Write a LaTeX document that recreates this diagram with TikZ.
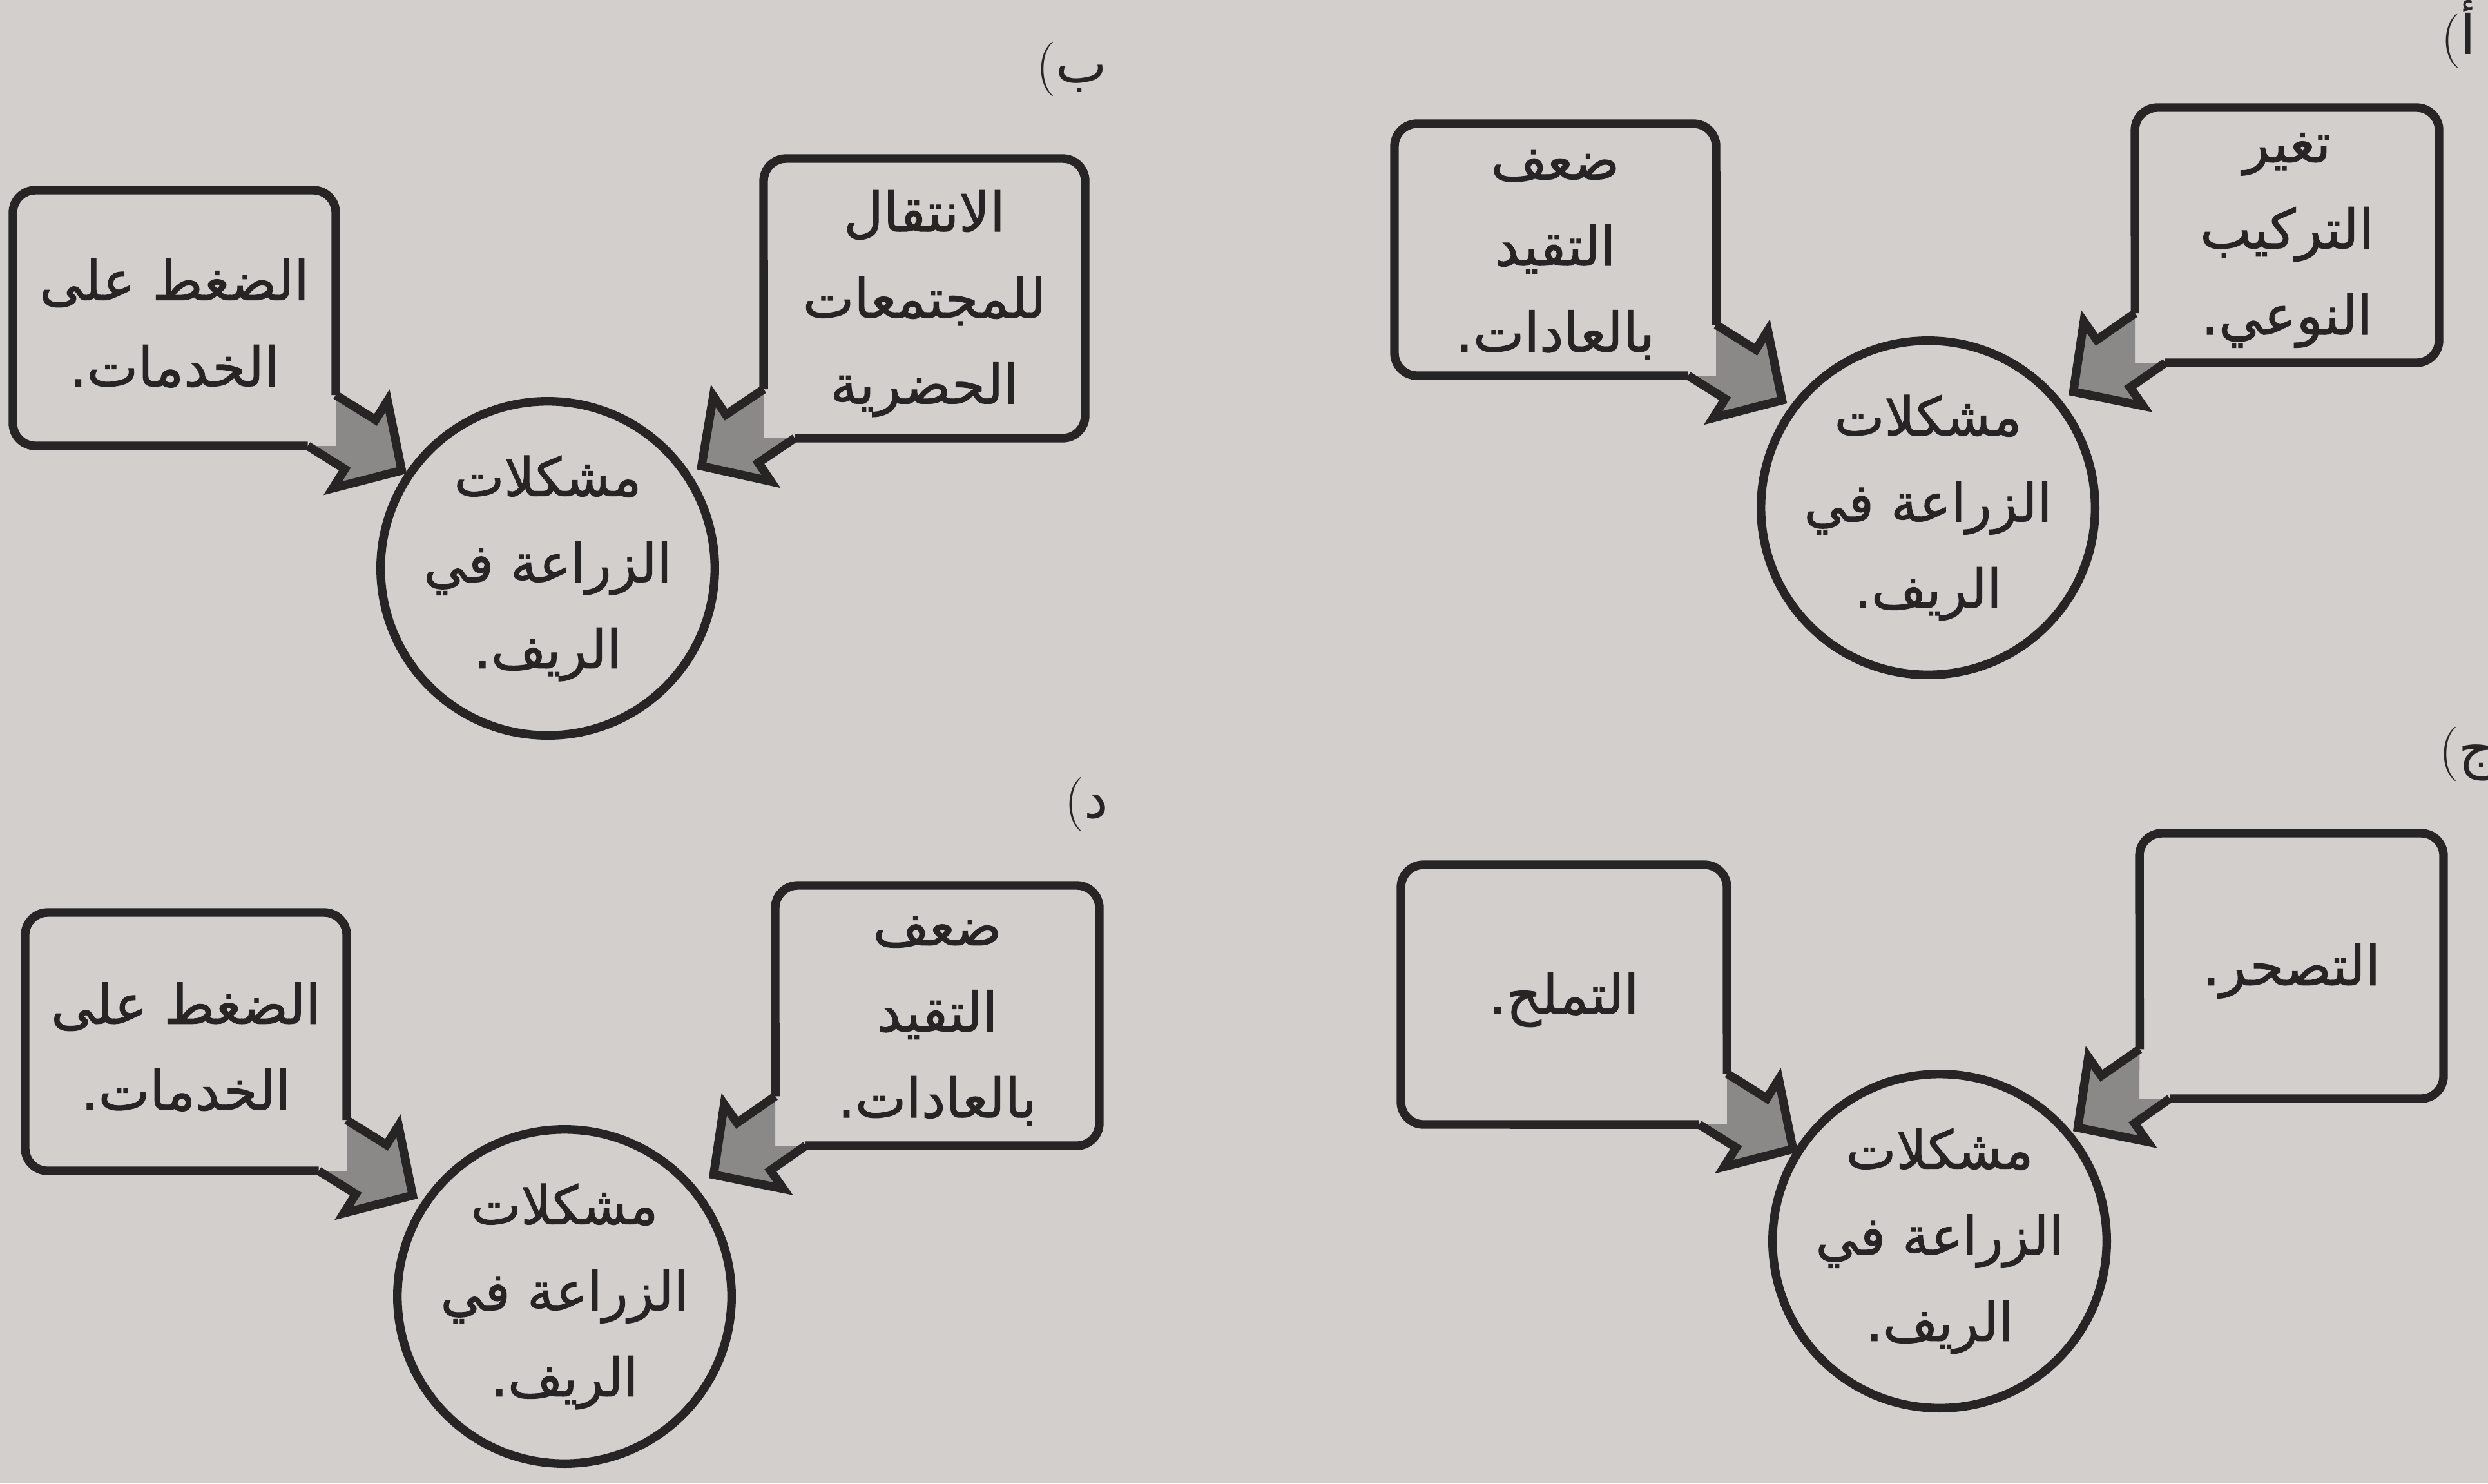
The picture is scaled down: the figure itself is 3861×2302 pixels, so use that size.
\documentclass[tikz,border=0pt]{standalone}
\usepackage{fontspec}
\usetikzlibrary{calc}
\newfontfamily\arabicfont[Script=Arabic, FakeBold=1.2]{DejaVu Sans}
\newfontfamily\arabicplain[Script=Arabic]{DejaVu Sans}
\TeXXeTstate=1
\definecolor{paper}{RGB}{211,207,205}
\definecolor{ink}{RGB}{38,36,36}
\definecolor{arrowgray}{RGB}{138,137,135}
\newcommand{\ar}[1]{\beginR #1\endR}
\def\arwshaft{45}
\def\arwhead{80}
\def\arwlen{76}
\def\boxrad{0.35cm}
\tikzset{
  outline/.style={draw=ink, line width=3.8pt},
  txt/.style={text=ink, align=center, inner sep=0pt, font=\arabicfont\fontsize{24}{38}\selectfont},
  circ/.style={circle, draw=ink, fill=paper, line width=3.8pt, minimum size=5.1cm, inner sep=0pt,
    text=ink, align=center, font=\arabicfont\fontsize{23.5}{38}\selectfont},
  lbl/.style={text=ink, inner sep=0pt, font=\fontsize{24}{28}\selectfont},
}
% box with the arrow on its bottom-left corner
\newcommand{\calloutBL}[7]{%
  \coordinate (#1c) at (#2,#5);
  \coordinate (#1tl) at (#2,#3);
  \coordinate (#1tr) at (#4,#3);
  \coordinate (#1br) at (#4,#5);
  \coordinate (#1o) at ($(#1c)+(#6:28)+(#6+90:18)$);
  \coordinate (#1na) at ($(#1o)+(#6+90:\arwshaft)$);
  \coordinate (#1ha) at ($(#1o)+(#6+90:\arwhead)$);
  \coordinate (#1t) at ($(#1o)+(#6:\arwlen)$);
  \coordinate (#1hb) at ($(#1o)+(#6-90:\arwhead)$);
  \coordinate (#1nb) at ($(#1o)+(#6-90:\arwshaft)$);
  \coordinate (#1nax) at ($(#1na)+(#6+180:200)$);
  \coordinate (#1nbx) at ($(#1nb)+(#6+180:200)$);
  \coordinate (#1A) at (intersection of #1na--#1nax and #1c--#1tl);
  \coordinate (#1B) at (intersection of #1nb--#1nbx and #1c--#1br);
  \fill[paper, rounded corners=\boxrad] (#1tl) -- (#1tr) -- (#1br) -- (#1c) -- cycle;
  \fill[arrowgray] (#1A) -- (#1na) -- (#1ha) -- (#1t) -- (#1hb) -- (#1nb) -- (#1B) -- (#1c) -- cycle;
  \draw[outline, line join=miter] (#1A) -- (#1na) -- (#1ha) -- (#1t) -- (#1hb) -- (#1nb) -- (#1B);
  \draw[outline, line join=round, rounded corners=\boxrad] (#1A) -- (#1tl) -- (#1tr) -- (#1br) -- (#1B);
  \node[txt] (#1) at ($(#1tl)!0.5!(#1br)+(0,8)$) {#7};
}
% box with the arrow on its bottom-right corner
\newcommand{\calloutBR}[7]{%
  \coordinate (#1c) at (#4,#5);
  \coordinate (#1tl) at (#2,#3);
  \coordinate (#1tr) at (#4,#3);
  \coordinate (#1bl) at (#2,#5);
  \coordinate (#1o) at ($(#1c)+(#6:31)+(#6-90:22)$);
  \coordinate (#1na) at ($(#1o)+(#6+90:\arwshaft)$);
  \coordinate (#1ha) at ($(#1o)+(#6+90:\arwhead)$);
  \coordinate (#1t) at ($(#1o)+(#6:\arwlen)$);
  \coordinate (#1hb) at ($(#1o)+(#6-90:\arwhead)$);
  \coordinate (#1nb) at ($(#1o)+(#6-90:\arwshaft)$);
  \coordinate (#1nax) at ($(#1na)+(#6+180:200)$);
  \coordinate (#1nbx) at ($(#1nb)+(#6+180:200)$);
  \coordinate (#1A) at (intersection of #1na--#1nax and #1c--#1bl);
  \coordinate (#1B) at (intersection of #1nb--#1nbx and #1c--#1tr);
  \fill[paper, rounded corners=\boxrad] (#1tl) -- (#1tr) -- (#1c) -- (#1bl) -- cycle;
  \fill[arrowgray] (#1A) -- (#1na) -- (#1ha) -- (#1t) -- (#1hb) -- (#1nb) -- (#1B) -- (#1c) -- cycle;
  \draw[outline, line join=miter] (#1A) -- (#1na) -- (#1ha) -- (#1t) -- (#1hb) -- (#1nb) -- (#1B);
  \draw[outline, line join=round, rounded corners=\boxrad] (#1B) -- (#1tr) -- (#1tl) -- (#1bl) -- (#1A);
  \node[txt] (#1) at ($(#1tl)!0.5!(#1c)+(0,8)$) {#7};
}
\begin{document}
\begin{tikzpicture}[x=0.01cm, y=-0.01cm]
\useasboundingbox (0,0) rectangle (3861,2302);
\fill[paper] (0,0) rectangle (3861,2302);

% ---- panel a
\node[circ] (aM) at (2992,788) {\ar{مشكلات}\\\ar{الزراعة في}\\\ar{الريف.}};
\calloutBL{aR}{3313}{167}{3785}{563}{145}{\ar{تغير}\\\ar{التركيب}\\\ar{النوعي.}}
\calloutBR{aL}{2164}{192}{2663}{583}{32}{\ar{ضعف}\\\ar{التقيد}\\\ar{بالعادات.}}
\node[lbl, anchor=west] (la) at (3788,53) {(\arabicplain أ};

% ---- panel b
\node[circ] (bM) at (850,882) {\ar{مشكلات}\\\ar{الزراعة في}\\\ar{الريف.}};
\calloutBL{bR}{1185}{246}{1684}{680}{146}{\ar{الانتقال}\\\ar{للمجتمعات}\\\ar{الحضرية}};
\calloutBR{bL}{20}{295}{521}{692}{32}{\ar{الضغط على}\\\ar{الخدمات.}}
\node[lbl, anchor=west] (lb) at (1608,107) {(\arabicplain ب};

% ---- panel c
\node[circ] (cM) at (3010,1926) {\ar{مشكلات}\\\ar{الزراعة في}\\\ar{الريف.}};
\calloutBL{cR}{3320}{1293}{3792}{1705}{145}{\ar{التصحر.}}
\calloutBR{cL}{2174}{1342}{2680}{1745}{32}{\ar{التملح.}}
\node[lbl, anchor=west] (lc) at (3785,1170) {(\arabicplain ج};

% ---- panel d
\node[circ] (dM) at (876,2012) {\ar{مشكلات}\\\ar{الزراعة في}\\\ar{الريف.}};
\calloutBL{dR}{1203}{1374}{1706}{1778}{145}{\ar{ضعف}\\\ar{التقيد}\\\ar{بالعادات.}}
\calloutBR{dL}{39}{1416}{538}{1817}{32}{\ar{الضغط على}\\\ar{الخدمات.}}
\node[lbl, anchor=west] (ld) at (1652,1248) {(\arabicplain د};
\end{tikzpicture}
\end{document}
